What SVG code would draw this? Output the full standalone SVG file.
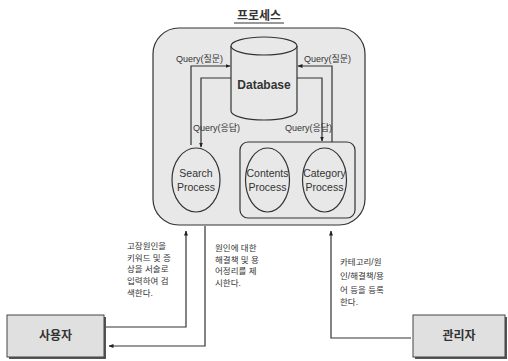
<svg xmlns="http://www.w3.org/2000/svg" width="508" height="361" viewBox="0 0 508 361">
<defs>
<marker id="ah" viewBox="0 0 10 10" refX="9" refY="5" markerWidth="5" markerHeight="5" orient="auto" markerUnits="userSpaceOnUse"><path d="M0,1 L10,5 L0,9 z" fill="#222"/></marker>
<style>
.ln{fill:none;stroke:#333;stroke-width:1.2}
.sh{fill:#e8e8e8;stroke:#333;stroke-width:1.2}
.t{font-family:"Liberation Sans","Noto Sans CJK KR",sans-serif;fill:#333}
.s{font-size:8.5px}
.q{font-size:9px}
.p{font-size:10.5px;text-anchor:middle}
.b{font-size:12px;font-weight:bold;text-anchor:middle}
</style>
</defs>
<rect width="508" height="361" fill="#fff"/>
<g id="process">
<rect x="153" y="28" width="212" height="197" rx="26" class="sh"/>
<text x="259" y="20" class="t b">프로세스</text>
<line x1="234" y1="23" x2="284" y2="23" stroke="#333" stroke-width="1"/>
</g>
<g id="database">
<path d="M231,46 L231,111 A33,9 0 0 0 297,111 L297,46" class="sh"/>
<ellipse cx="264" cy="46" rx="33" ry="9" class="sh"/>
<text x="264" y="89" class="t" font-size="12" font-weight="bold" text-anchor="middle">Database</text>
</g>
<g id="search">
<ellipse cx="196" cy="180" rx="24" ry="32" class="sh"/>
<text x="196" y="177" class="t p">Search</text>
<text x="196" y="191" class="t p">Process</text>
</g>
<g id="group">
<rect x="240" y="142" width="115" height="76" rx="8" class="sh"/>
</g>
<g id="contents">
<ellipse cx="267.5" cy="180" rx="22" ry="32" class="sh"/>
<text x="267.5" y="177" class="t p">Contents</text>
<text x="267.5" y="191" class="t p">Process</text>
</g>
<g id="category">
<ellipse cx="324.5" cy="180" rx="22" ry="32" class="sh"/>
<text x="324.5" y="177" class="t p">Category</text>
<text x="324.5" y="191" class="t p">Process</text>
</g>
<g id="user">
<rect x="9" y="317" width="97" height="42" fill="#555"/>
<rect x="7" y="315" width="97" height="42" fill="#e0e0e0" stroke="#444" stroke-width="1"/>
<text x="55.5" y="340" class="t b">사용자</text>
</g>
<g id="admin">
<rect x="415" y="317" width="92" height="42" fill="#555"/>
<rect x="413" y="315" width="92" height="42" fill="#e0e0e0" stroke="#444" stroke-width="1"/>
<text x="459" y="340" class="t b">관리자</text>
</g>
<g id="connectors">
<polyline points="191,145 191,66 230,66" class="ln" marker-end="url(#ah)"/>
<polyline points="231,78 201,78 201,147" class="ln" marker-end="url(#ah)"/>
<polyline points="332,142 332,66 298,66" class="ln" marker-end="url(#ah)"/>
<polyline points="297,78 322,78 322,141" class="ln" marker-end="url(#ah)"/>
<polyline points="106,327 186,327 186,231" class="ln" marker-end="url(#ah)"/>
<polyline points="205,226 205,346 109,346" class="ln" marker-end="url(#ah)"/>
<polyline points="411,338 331,338 331,231" class="ln" marker-end="url(#ah)"/>
</g>
<g id="labels">
<text x="176" y="62" class="t q">Query(질문)</text>
<text x="304" y="62" class="t q">Query(질문)</text>
<text x="193" y="131" class="t q">Query(응답)</text>
<text x="285" y="131" class="t q">Query(응답)</text>
<text class="t s"><tspan x="127" y="249">고장원인을</tspan><tspan x="127" y="261">키워드 및 증</tspan><tspan x="127" y="272">상을 서술로</tspan><tspan x="127" y="284">입력하여 검</tspan><tspan x="127" y="296">색한다.</tspan></text>
<text class="t s"><tspan x="215" y="251">원인에 대한</tspan><tspan x="215" y="263">해결책 및 용</tspan><tspan x="215" y="274">어정리를 제</tspan><tspan x="215" y="286">시한다.</tspan></text>
<text class="t s"><tspan x="340" y="265">카테고리/원</tspan><tspan x="340" y="279">인/해결책/용</tspan><tspan x="340" y="293">어 등을 등록</tspan><tspan x="340" y="305">한다.</tspan></text>
</g>
</svg>
